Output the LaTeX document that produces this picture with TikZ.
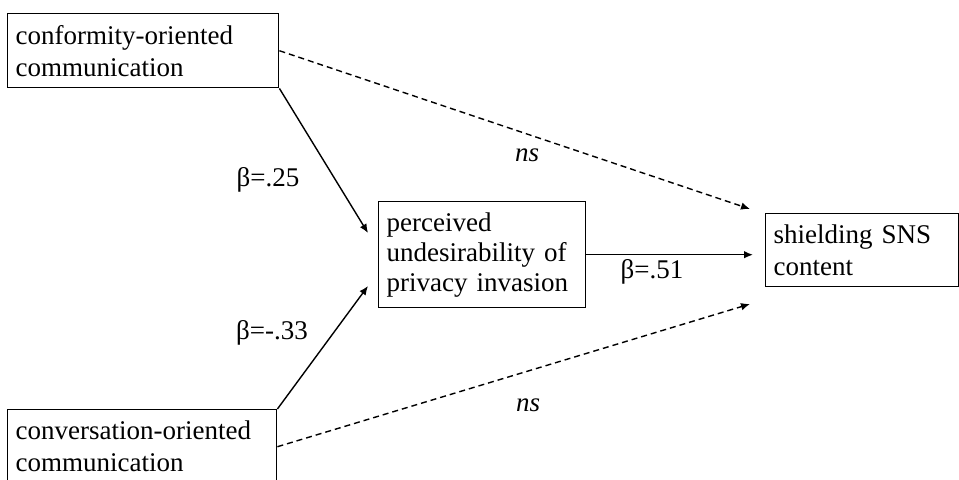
\documentclass[tikz,border=0pt]{standalone}
\usepackage{fontspec}
\setmainfont{Liberation Serif}
\usetikzlibrary{positioning}
\usetikzlibrary{shapes,arrows,arrows.meta}
\tikzstyle{block} = [rectangle, draw, line width=0.7pt, fill=white, align=left,
inner xsep=4pt, inner ysep=2pt, minimum height=37pt, anchor=north west,
font=\fontsize{13.5}{16}\selectfont]
\tikzstyle{line} = [draw, line width=0.7pt, -{Latex[length=4.5pt,width=3.8pt]}]
\tikzstyle{dline} = [line, dash pattern=on 3pt off 2pt]
\tikzstyle{coef} = [font=\fontsize{13.5}{16}\selectfont]

\begin{document}
\begin{tikzpicture}[x=0.5pt, y=-0.5pt]
    \clip (0,0) rectangle (959,479);
    % nodes
    \node [block, text width=127.5pt] (conf) at (7,13) {conformity-oriented\\communication};
    \node [block, text width=126.5pt] (conv) at (7,409) {conversation-oriented\\communication};
    \node [block, text width=95.5pt, minimum height=53pt, font=\fontsize{13.5}{15}\selectfont] (perc) at (378,201) {perceived\\undesirability of\\privacy invasion};
    \node [block, text width=88.5pt, minimum height=36.5pt] (shield) at (765,213) {shielding SNS\\content};
    \coordinate (m-in1) at (368,233);
    \coordinate (m-in2) at (368,286);
    \coordinate (s-in0) at (753,252);
    \coordinate (s-in1) at (750,209);
    \coordinate (s-in2) at (750,304);

    % labels
    \node [coef] (b-conf) at (268,180) {β=.25};
    \node [coef] (b-conv) at (272,333) {β=-.33};
    \node [coef] (b-perc) at (652,272) {β=.51};
    \node [coef, font=\fontsize{13.5}{16}\selectfont\itshape] (ns-conf) at (527,155) {ns};
    \node [coef, font=\fontsize{13.5}{16}\selectfont\itshape] (ns-conv) at (528,405) {ns};

    % edges
    \path [line] (conf.south east) -- (m-in1);
    \path [line] (conv.north east) -- (m-in2);
    \path [line] (perc.east) -- (perc.east -| s-in0);
    \path [dline] (conf.east) -- (s-in1);
    \path [dline] (conv.east) -- (s-in2);
\end{tikzpicture}
\end{document}
